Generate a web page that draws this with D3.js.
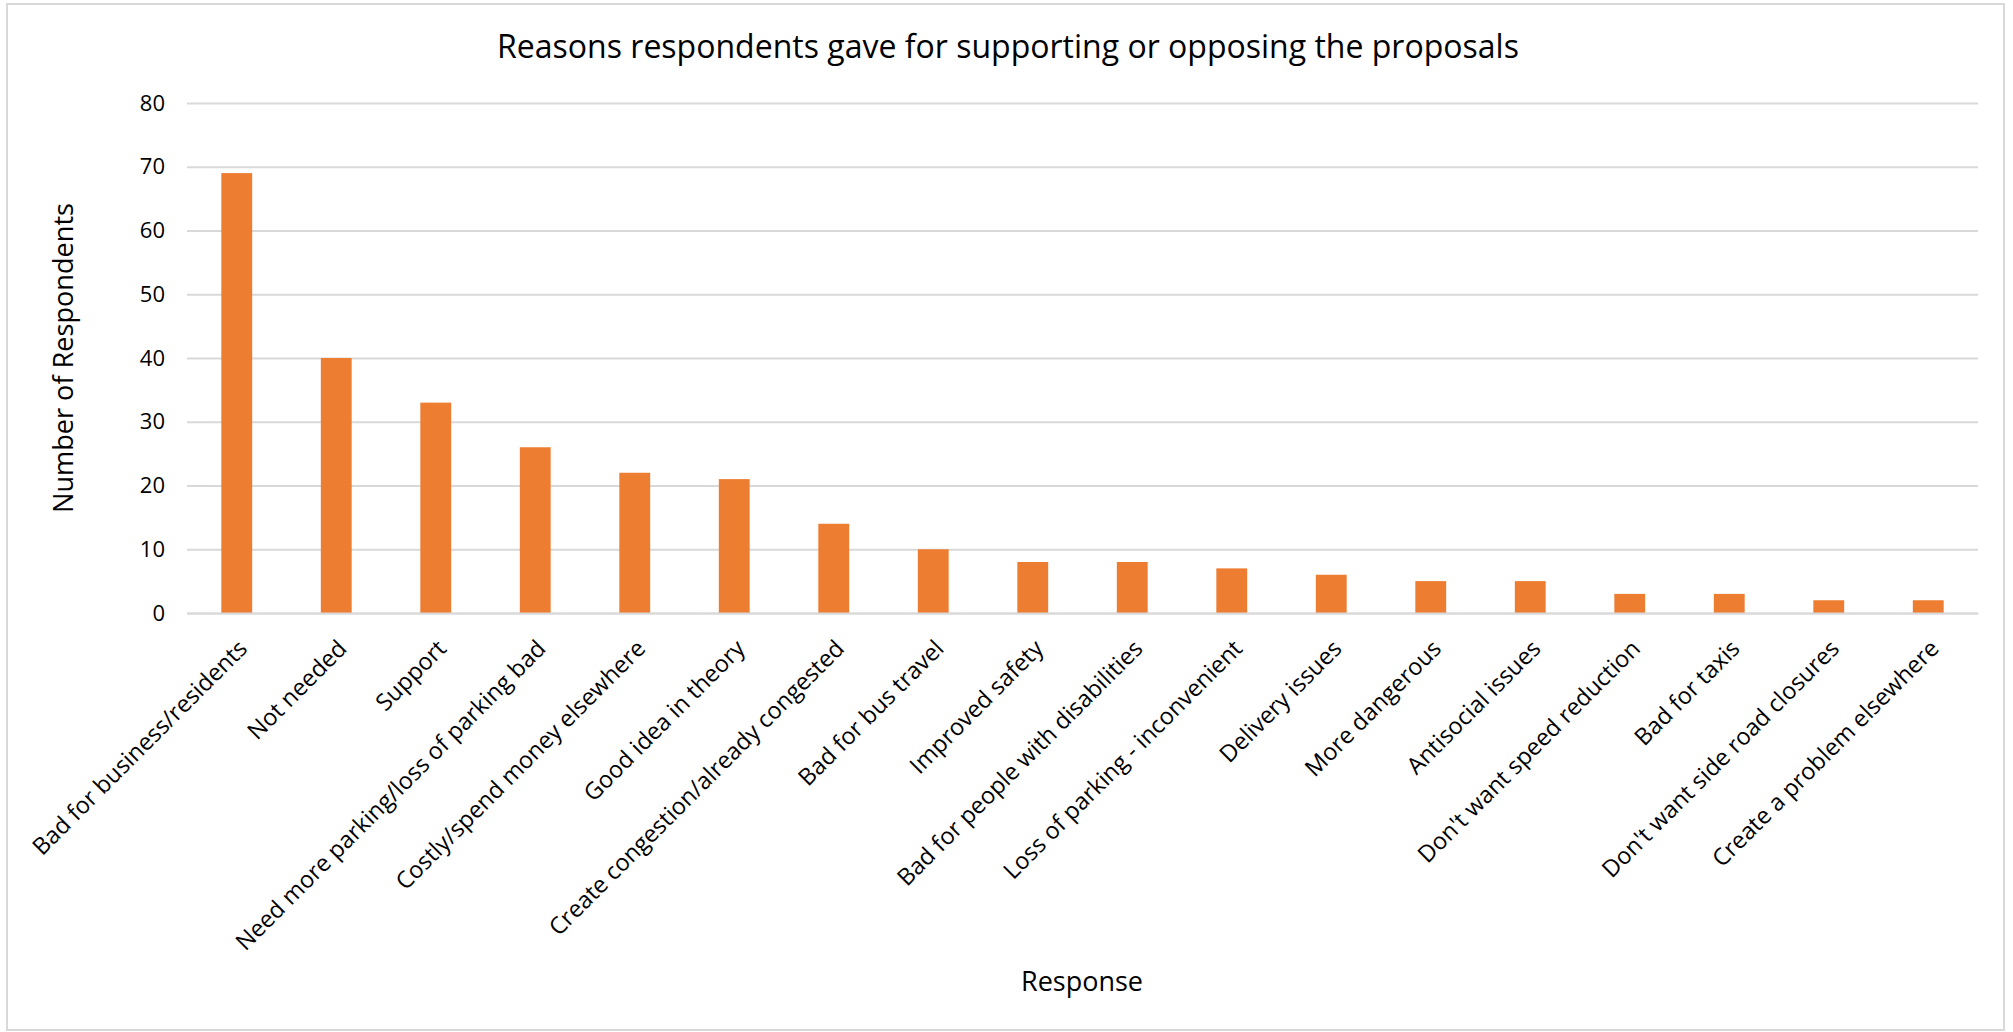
<!DOCTYPE html>
<html>
<head>
<meta charset="utf-8">
<script src="https://cdn.jsdelivr.net/npm/d3@7"></script>
<style>
  html, body { margin: 0; padding: 0; background: #ffffff; }
  svg { display: block; }
  text { font-family: "Open Sans", "Lato", sans-serif; fill: #000; }
</style>
</head>
<body>
<script>
const categories = [
  "Bad for business/residents",
  "Not needed",
  "Support",
  "Need more parking/loss of parking bad",
  "Costly/spend money elsewhere",
  "Good idea in theory",
  "Create congestion/already congested",
  "Bad for bus travel",
  "Improved safety",
  "Bad for people with disabilities",
  "Loss of parking - inconvenient",
  "Delivery issues",
  "More dangerous",
  "Antisocial issues",
  "Don't want speed reduction",
  "Bad for taxis",
  "Don't want side road closures",
  "Create a problem elsewhere"
];
const values = [69, 40, 33, 26, 22, 21, 14, 10, 8, 8, 7, 6, 5, 5, 3, 3, 2, 2];
const yTicks = [0, 10, 20, 30, 40, 50, 60, 70, 80];
const titleText = "Reasons respondents gave for supporting or opposing the proposals";
const xTitle = "Response";
const yTitle = "Number of Respondents";

const W = 2013, H = 1032;
const plot = { left: 187, right: 1978, top: 103, bottom: 613 };

const svg = d3.select("body").append("svg").attr("width", W).attr("height", H);

// chart border
svg.append("rect")
  .attr("x", 7).attr("y", 4).attr("width", 1997).attr("height", 1026)
  .attr("fill", "#fff").attr("stroke", "#d9d9d9").attr("stroke-width", 2);

const x = d3.scaleBand().domain(categories)
  .range([plot.left, plot.right]).paddingInner(0.69).paddingOuter(0.345);
const y = d3.scaleLinear().domain([0, 80]).range([plot.bottom, plot.top]);

// fit a text's font size so its rendered width matches target
function fitWidth(sel, target) {
  const node = sel.node();
  const base = parseFloat(sel.attr("font-size"));
  const w = node.getComputedTextLength();
  sel.attr("font-size", (base * target / w).toFixed(2));
}

// gridlines + y axis labels
const yAxis = d3.axisLeft(y).tickValues(yTicks)
  .tickSize(-(plot.right - plot.left)).tickPadding(22);
const gy = svg.append("g").attr("transform", `translate(${plot.left},0)`).call(yAxis);
gy.select(".domain").remove();
gy.selectAll(".tick line").attr("stroke", "#d9d9d9").attr("stroke-width", 2);
gy.selectAll(".tick text").attr("font-family", "Open Sans").attr("font-size", 24).attr("fill", "#000");
{
  const t80 = gy.selectAll(".tick text").filter(d => d === 80);
  const w = t80.node().getComputedTextLength();
  const fs = (24 * 25.2 / w).toFixed(2);
  gy.selectAll(".tick text").attr("font-size", fs);
}

// bars
svg.append("g").selectAll("rect").data(values).join("rect")
  .attr("x", (d, i) => x(categories[i]))
  .attr("width", x.bandwidth())
  .attr("y", d => y(d))
  .attr("height", d => y(0) - y(d))
  .attr("fill", "#ED7D31");

// x axis (baseline + rotated labels)
const xAxis = d3.axisBottom(x).tickSize(0).tickPadding(0);
const gx = svg.append("g").attr("transform", `translate(0,${plot.bottom})`).call(xAxis);
gx.select(".domain").attr("stroke", "#d9d9d9").attr("stroke-width", 2);
gx.selectAll(".tick text")
  .attr("font-family", "Open Sans")
  .attr("font-size", 24)
  .attr("fill", "#000")
  .attr("text-anchor", "end")
  .attr("dy", 0)
  .attr("y", 0)
  .attr("transform", "translate(12,37) rotate(-45)");
{
  const first = gx.selectAll(".tick text").filter(d => d === categories[0]);
  const w = first.node().getComputedTextLength();
  const fs = (24 * 292 / w).toFixed(2);
  gx.selectAll(".tick text").attr("font-size", fs);
}

// title
const tt = svg.append("text")
  .attr("x", 1008).attr("y", 58)
  .attr("text-anchor", "middle")
  .attr("font-size", 34)
  .text(titleText);
fitWidth(tt, 1022);

// x title
const xt = svg.append("text")
  .attr("x", 1082).attr("y", 991)
  .attr("text-anchor", "middle")
  .attr("font-size", 30)
  .text(xTitle);
fitWidth(xt, 122);

// y title
const yt = svg.append("text")
  .attr("transform", "translate(73,358) rotate(-90)")
  .attr("text-anchor", "middle")
  .attr("font-size", 30)
  .text(yTitle);
fitWidth(yt, 310);
</script>
</body>
</html>
